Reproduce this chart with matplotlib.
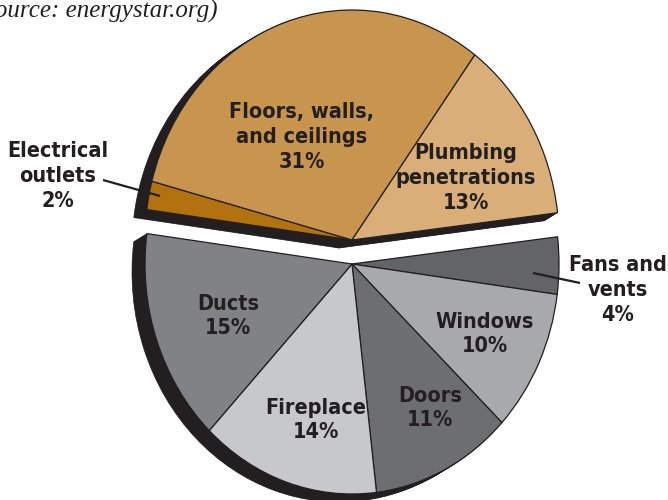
import matplotlib
matplotlib.use("Agg")
import matplotlib.pyplot as plt

# Air leak sources (energystar.org), clockwise from the right-hand split
labels = ["Fans and\nvents", "Windows", "Doors", "Fireplace", "Ducts",
          "Electrical\noutlets", "Floors, walls,\nand ceilings", "Plumbing\npenetrations"]
shares = [4, 10, 11, 14, 15, 2, 31, 13]
colors = ["#636466", "#A7A9AC", "#6D6E71", "#C7C8CA", "#808285",
          "#B2720F", "#C8954E", "#DAAE78"]
in_top = [False, False, False, False, False, True, True, True]

INK = "#231F20"
W, H = 668, 500
CX, CY_TOP, CY_BOT = 352, 240, 264   # pie centres in pixels (top / bottom half)
RX, RY = 207, 230                    # pie is a little taller than wide
SHADOW = (-13, 8)                    # extrusion offset in pixels
START = 6.8


def to_data(px, py):
    return ((px - CX) / RX, (CY_TOP - py) / RY)


fig = plt.figure(figsize=(W / 100, H / 100), dpi=100)
ax = fig.add_axes([0, 0, 1, 1])


def draw_pie(center, face_colors, lw, top, zorder):
    wedges, _ = ax.pie(shares, colors=face_colors, startangle=START,
                       counterclock=False, radius=1, center=center,
                       wedgeprops=dict(linewidth=lw, edgecolor=INK))
    for w, t in zip(wedges, in_top):
        w.set_zorder(zorder)
        if t != top:
            w.set_visible(False)


# extruded black shadow: stack of shifted copies
steps = 14
for top, cy in ((True, CY_TOP), (False, CY_BOT)):
    for k in range(1, steps + 1):
        c = to_data(CX + SHADOW[0] * k / steps, cy + SHADOW[1] * k / steps)
        draw_pie(c, [INK] * len(shares), 0.5, top, 1)

# coloured faces
draw_pie(to_data(CX, CY_TOP), colors, 0.9, True, 2)
draw_pie(to_data(CX, CY_BOT), colors, 0.9, False, 2)

# slice labels (pixel positions)
label_px = [(618, 290), (485, 334), (430, 408), (316, 420), (228, 316),
            (58, 176), (302, 137), (466, 178)]
for lab, val, (px, py) in zip(labels, shares, label_px):
    x, y = to_data(px, py)
    ax.text(x, y, f"{lab}\n{val}%", ha="center", va="center", fontsize=15.5,
            fontweight="bold", fontstretch="condensed", color=INK,
            linespacing=1.3, family="DejaVu Sans", zorder=5)

# leader lines
for (x0, y0), (x1, y1) in (((103, 180), (160, 196)), ((533, 273), (580, 283))):
    a, b = to_data(x0, y0), to_data(x1, y1)
    ax.plot([a[0], b[0]], [a[1], b[1]], color=INK, lw=1.6, zorder=5,
            solid_capstyle="butt")

sx, sy = to_data(218, 18)
ax.text(sx, sy, "(Source: energystar.org)", ha="right", va="baseline",
        fontsize=18, style="italic", family="Liberation Serif", color=INK)

ax.set_aspect("auto")
ax.set_xlim(to_data(0, 0)[0], to_data(W, 0)[0])
ax.set_ylim(to_data(0, H)[1], to_data(0, 0)[1])
ax.axis("off")

fig.savefig("out.png", dpi=100)
